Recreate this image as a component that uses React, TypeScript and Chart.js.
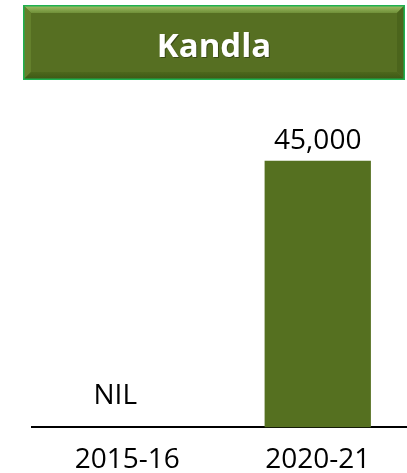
import React, { useEffect, useRef } from "react";
import { Chart, registerables } from "chart.js";

Chart.register(...registerables);

const chartTitle = "Kandla";
const categories = ["2015-16", "2020-21"];
const values = [0, 45000];
const yMax = 50000;

const FONT = "'Open Sans', 'DejaVu Sans', sans-serif";
const BAR_COLOR = "#557020";

const titleBoxPlugin = {
  id: "titleBox",
  beforeDraw(chart: any) {
    const ctx = chart.ctx;
    const x = 23, y = 5, w = 382, h = 75, b = 8;
    ctx.save();
    ctx.fillStyle = "#566f22";
    ctx.fillRect(x, y, w, h);
    const gTop = ctx.createLinearGradient(0, y, 0, y + b);
    gTop.addColorStop(0, "#a3c46a");
    gTop.addColorStop(1, "#6f8f38");
    ctx.fillStyle = gTop;
    ctx.beginPath();
    ctx.moveTo(x, y); ctx.lineTo(x + w, y); ctx.lineTo(x + w - b, y + b); ctx.lineTo(x + b, y + b); ctx.closePath();
    ctx.fill();
    ctx.fillStyle = "#64802c";
    ctx.beginPath();
    ctx.moveTo(x, y); ctx.lineTo(x + b, y + b); ctx.lineTo(x + b, y + h - b); ctx.lineTo(x, y + h); ctx.closePath();
    ctx.fill();
    ctx.fillStyle = "#4b641c";
    ctx.beginPath();
    ctx.moveTo(x + w, y); ctx.lineTo(x + w, y + h); ctx.lineTo(x + w - b, y + h - b); ctx.lineTo(x + w - b, y + b); ctx.closePath();
    ctx.fill();
    const gBot = ctx.createLinearGradient(0, y + h - b, 0, y + h);
    gBot.addColorStop(0, "#4d681c");
    gBot.addColorStop(1, "#3c5514");
    ctx.fillStyle = gBot;
    ctx.beginPath();
    ctx.moveTo(x, y + h); ctx.lineTo(x + b, y + h - b); ctx.lineTo(x + w - b, y + h - b); ctx.lineTo(x + w, y + h); ctx.closePath();
    ctx.fill();
    ctx.strokeStyle = "#1fb050";
    ctx.lineWidth = 1.5;
    ctx.strokeRect(x + 0.75, y + 0.75, w - 1.5, h - 1.5);
    ctx.font = `bold 33px ${FONT}`;
    ctx.textAlign = "center";
    ctx.textBaseline = "alphabetic";
    ctx.fillStyle = "rgba(0,0,0,0.35)";
    ctx.fillText(chartTitle, x + w / 2 + 1, 58);
    ctx.fillStyle = "#ffffff";
    ctx.fillText(chartTitle, x + w / 2, 57);
    ctx.restore();
  },
};

const valueLabelPlugin = {
  id: "valueLabels",
  afterDatasetsDraw(chart: any) {
    const ctx = chart.ctx;
    const meta = chart.getDatasetMeta(0);
    ctx.save();
    ctx.font = `28px ${FONT}`;
    ctx.fillStyle = "#000000";
    ctx.textAlign = "center";
    ctx.textBaseline = "alphabetic";
    meta.data.forEach((el: any, i: number) => {
      const v = values[i];
      const text = v === 0 ? "NIL" : v.toLocaleString("en-US");
      const off = v === 0 ? 23 : 12;
      const dx = v === 0 ? -12 : 0;
      ctx.fillText(text, el.x + dx, el.y - off);
    });
    ctx.restore();
  },
};

export default function App() {
  const ref = useRef<HTMLCanvasElement | null>(null);
  useEffect(() => {
    if (!ref.current) return;
    const chart = new Chart(ref.current, {
      type: "bar",
      data: {
        labels: categories,
        datasets: [
          {
            data: values,
            backgroundColor: BAR_COLOR,
            barPercentage: 0.558,
            categoryPercentage: 1,
          },
        ],
      },
      options: {
        animation: false,
        responsive: false,
        maintainAspectRatio: false,
        layout: { padding: { top: 131, left: 32, right: 0, bottom: 0 } },
        plugins: {
          legend: { display: false },
          tooltip: { enabled: false },
          title: { display: false },
        },
        scales: {
          x: {
            grid: { display: false, drawTicks: false },
            border: { display: true, color: "#000000", width: 2 },
            ticks: { color: "#000000", font: { family: FONT, size: 28 }, padding: 16 },
          },
          y: {
            display: false,
            min: 0,
            max: yMax,
          },
        },
      },
      plugins: [titleBoxPlugin, valueLabelPlugin],
    });
    return () => chart.destroy();
  }, []);
  return (
    <div style={{ position: "absolute", left: 0, top: 0, width: 407, height: 473, overflow: "hidden", background: "#fff" }}>
      <canvas ref={ref} width={413} height={493} style={{ width: 413, height: 493, display: "block" }} />
    </div>
  );
}
